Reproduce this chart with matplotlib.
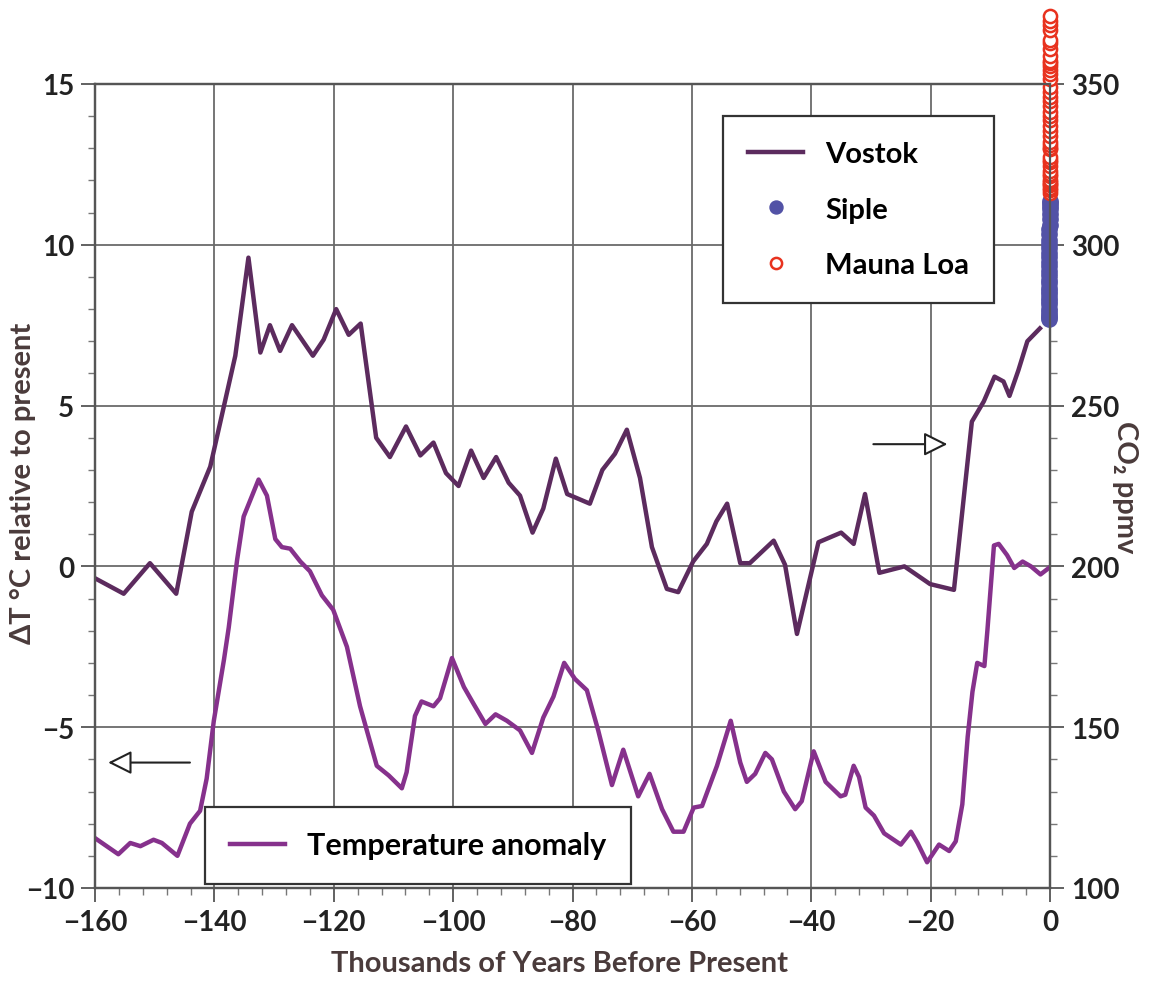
import numpy as np
import matplotlib
matplotlib.use("Agg")
import matplotlib.pyplot as plt
from matplotlib.ticker import MultipleLocator

plt.rcParams['font.family'] = ['Lato', 'DejaVu Sans']
plt.rcParams['font.weight'] = 'bold'
plt.rcParams['axes.labelweight'] = 'bold'

# Vostok CO2 (kyr BP, ppmv)
vostok_kyr = [-159.7, -155.2, -150.8, -146.4, -143.8, -140.7, -136.5, -134.3, -132.3, -130.7,
              -129.0, -127.0, -123.5, -121.7, -119.6, -117.5, -115.5, -112.9, -110.6, -107.9,
              -105.5, -103.3, -101.2, -99.1, -97.0, -94.9, -92.8, -90.7, -88.8, -86.7,
              -84.9, -82.8, -80.9, -77.1, -75.0, -72.9, -70.9, -68.7, -66.7, -64.2,
              -62.3, -59.8, -57.5, -55.9, -54.1, -51.9, -50.3, -46.3, -44.4, -42.4,
              -38.8, -35.0, -32.9, -31.0, -28.6, -24.4, -20.1, -16.1, -13.1, -11.1,
              -9.3, -7.8, -6.8, -5.3, -3.8, -1.7]
vostok_co2 = [196, 191.5, 201, 191.5, 217, 231, 265.5, 296, 266.5, 275,
              267, 275, 265.5, 270.5, 280, 272, 275.5, 240, 234, 243.5,
              234.5, 238.5, 229, 225, 236, 227.5, 234, 226, 222, 210.5,
              218, 233.5, 222.5, 219.5, 230, 235, 242.5, 227.5, 206, 193,
              192, 201.5, 207, 214, 219.5, 201, 201, 208, 200.5, 179,
              207.5, 210.5, 207, 222.5, 198, 200, 194.5, 192.7, 245, 251.3,
              259, 257.5, 253, 261, 270, 274]

# temperature anomaly (kyr BP, deg C)
temp_kyr = [-160.0, -156.1, -154.1, -152.4, -150.2, -148.8, -146.2, -144.1, -142.4, -141.3,
            -140.1, -138.4, -137.6, -136.2, -135.1, -132.6, -131.2, -129.8, -128.7, -127.3,
            -125.6, -124.0, -122.0, -120.1, -117.8, -115.6, -112.8, -110.8, -108.6, -107.8,
            -106.4, -105.3, -103.3, -102.2, -100.2, -98.2, -96.5, -94.6, -92.9, -91.0,
            -88.8, -86.8, -84.9, -83.2, -81.4, -79.6, -77.6, -75.7, -73.4, -71.5,
            -69.0, -67.1, -65.0, -63.1, -61.4, -59.7, -58.3, -55.8, -53.5, -51.9,
            -50.8, -49.4, -47.7, -46.6, -44.6, -42.7, -41.6, -39.6, -37.6, -35.1,
            -34.3, -32.9, -32.0, -30.9, -29.5, -27.8, -25.0, -23.3, -22.2, -20.6,
            -18.6, -16.9, -15.8, -14.7, -13.8, -13.0, -12.2, -11.0, -10.5, -9.4,
            -8.6, -7.2, -6.0, -4.6, -3.2, -1.6, -0.2]
temp_dt = [-8.45, -8.95, -8.6, -8.7, -8.5, -8.6, -9.0, -8.0, -7.6, -6.6,
           -4.8, -2.9, -1.9, 0.2, 1.55, 2.7, 2.2, 0.85, 0.6, 0.55,
           0.15, -0.15, -0.9, -1.35, -2.5, -4.35, -6.2, -6.5, -6.9, -6.4,
           -4.65, -4.2, -4.35, -4.1, -2.85, -3.75, -4.3, -4.9, -4.6, -4.8,
           -5.1, -5.8, -4.7, -4.05, -3.0, -3.5, -3.85, -5.1, -6.8, -5.7,
           -7.15, -6.45, -7.55, -8.25, -8.25, -7.5, -7.45, -6.2, -4.8, -6.1,
           -6.7, -6.45, -5.8, -6.0, -7.0, -7.55, -7.3, -5.75, -6.7, -7.15,
           -7.1, -6.2, -6.55, -7.5, -7.75, -8.3, -8.65, -8.25, -8.6, -9.2,
           -8.65, -8.85, -8.55, -7.4, -5.3, -3.9, -3.0, -3.1, -2.0, 0.65,
           0.7, 0.35, -0.05, 0.15, 0.0, -0.25, -0.05]

# Siple ice core (year AD, ppmv)
siple_year = [1744, 1750, 1757, 1764, 1771, 1778, 1785, 1791, 1798, 1805,
              1812, 1819, 1826, 1833, 1840, 1847, 1854, 1861, 1868, 1875,
              1882, 1889, 1896, 1903, 1910, 1917, 1924, 1931, 1938, 1945, 1953]
siple_co2 = [276.8, 277.5, 278.3, 279.2, 280.0, 281.5, 282.6, 283.4, 284.7, 285.5,
             286.7, 288.1, 289.0, 290.6, 292.0, 293.5, 294.8, 296.2, 297.5, 298.9,
             300.2, 301.6, 303.2, 304.8, 306.3, 307.9, 309.5, 311.2, 312.0, 312.9, 313.5]

# Mauna Loa (year AD, ppmv)
mlo_year = list(range(1959, 2002))
mlo_co2 = [315.97, 316.91, 317.64, 318.45, 318.99, 319.62, 320.04, 321.38, 322.16, 323.04,
           324.62, 325.68, 326.32, 327.45, 329.68, 330.18, 331.08, 332.05, 333.78, 335.41,
           336.78, 338.68, 340.10, 341.44, 343.03, 344.58, 346.04, 347.39, 349.16, 351.56,
           353.07, 354.35, 355.57, 356.38, 357.07, 358.82, 360.80, 362.59, 363.71, 366.65,
           368.33, 369.52, 371.13]

siple_kyr = (np.array(siple_year) - 2000) / 1000
mlo_kyr = (np.array(mlo_year) - 2000) / 1000

c_vostok = '#5c2b5e'
c_temp = '#86318c'
c_tick = '#222222'
c_label = '#4a3b3b'

fig = plt.figure(figsize=(11.52, 9.87), dpi=100)
ax = fig.add_axes([0.0825, 0.0993, 0.829, 0.8146])
ax2 = ax.twinx()

ax.plot(temp_kyr, temp_dt, color=c_temp, lw=3.2, solid_joinstyle='round',
        label='Temperature anomaly', zorder=3)
ax.set_xlim(-160, 0)
ax.set_ylim(-10, 15)

ax2.plot(vostok_kyr, vostok_co2, color=c_vostok, lw=3.2, label='Vostok')
ax2.plot(siple_kyr, siple_co2, 'o', ms=11, color='#5252a6', label='Siple', clip_on=False)
ax2.plot(mlo_kyr, mlo_co2, 'o', ms=9.5, mfc='white', mec='#e8321e', mew=1.8,
         label='Mauna Loa', clip_on=False)
ax2.set_ylim(100, 350)

ax.xaxis.set_major_locator(MultipleLocator(20))
ax.xaxis.set_minor_locator(MultipleLocator(4))
ax.yaxis.set_major_locator(MultipleLocator(5))
ax.yaxis.set_minor_locator(MultipleLocator(1))
ax2.yaxis.set_major_locator(MultipleLocator(50))
ax2.yaxis.set_minor_locator(MultipleLocator(10))

ax.grid(True, which='major', color='#6a6a6a', lw=1.3)
ax.set_axisbelow(True)

for a in (ax, ax2):
    a.tick_params(which='major', length=10, width=1.3, color='#555555', labelsize=20,
                  labelcolor=c_tick, pad=5)
    a.tick_params(which='minor', length=5, width=1, color='#777777')
    for s in a.spines.values():
        s.set_color('#555555')
        s.set_linewidth(1.6)

ax.set_xlabel('Thousands of Years Before Present', fontsize=21, color=c_label)
ax.xaxis.set_label_coords(0.486, -0.077)
ax.set_ylabel('ΔT °C relative to present', fontsize=21, color=c_label)
ax.yaxis.set_label_coords(-0.062, 0.505)
ax2.set_ylabel('CO₂ ppmv', fontsize=21, color=c_label, rotation=-90, va='center')
ax2.yaxis.set_label_coords(1.0785, 0.5)

# direction arrows
ax.annotate('', xy=(-157.8, -6.1), xytext=(-144.1, -6.1),
            arrowprops=dict(arrowstyle='-|>', fc='white', ec='#222222', lw=1.5,
                            mutation_scale=36, shrinkA=0, shrinkB=0))
ax.annotate('', xy=(-17.2, 3.8), xytext=(-29.6, 3.8),
            arrowprops=dict(arrowstyle='-|>', fc='white', ec='#222222', lw=1.5,
                            mutation_scale=36, shrinkA=0, shrinkB=0))

leg2 = ax2.legend(loc='upper left', bbox_to_anchor=(0.6576, 0.960), borderaxespad=0,
                  fontsize=21, fancybox=False, edgecolor='#333333', framealpha=1,
                  labelspacing=1.02, handlelength=1.9, handletextpad=0.75, borderpad=0.85,
                  markerscale=0.85)
leg2.get_frame().set_linewidth(1.6)
leg1 = ax.legend(loc='upper left', bbox_to_anchor=(0.1152, 0.1007), borderaxespad=0,
                 fontsize=22, fancybox=False, edgecolor='#333333', framealpha=1,
                 handlelength=1.8, handletextpad=0.75, borderpad=0.8)
leg1.get_frame().set_linewidth(1.6)
leg1.set_zorder(5)

fig.savefig('out.png', dpi=100)
